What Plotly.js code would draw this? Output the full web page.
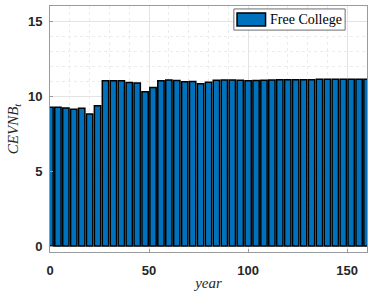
<!DOCTYPE html>
<html>
<head>
<meta charset="utf-8">
<script src="https://cdn.plot.ly/plotly-3.0.1.min.js"></script>
<style>
html,body{margin:0;padding:0;background:#fff;}
#chart{width:369px;height:297px;}
</style>
</head>
<body>
<div id="chart"></div>
<script>
// Data
const years = [0,4,8,12,16,20,24,28,32,36,40,44,48,52,56,60,64,68,72,76,80,
               84,88,92,96,100,104,108,112,116,120,124,128,132,136,140,144,148,152,156,160];
const cevnb = [9.25,9.25,9.2,9.12,9.18,8.8,9.35,11.02,11.02,11.02,10.9,10.87,10.28,10.57,11.02,11.07,11.03,10.95,10.97,10.82,10.92,
               11.05,11.06,11.06,11.05,11.02,11.03,11.05,11.07,11.08,11.08,11.08,11.09,11.09,11.12,11.12,11.12,11.12,11.12,11.12,11.12];
const seriesName = 'Free College';
const xTicks = [0,50,100,150];
const yTicks = [0,5,10,15];

const barColor = '#0072BD';
const trace = {
  type: 'bar',
  x: years,
  y: cevnb,
  name: seriesName,
  width: 3.2,
  marker: {color: barColor, line: {color: '#000000', width: 1.5}},
  showlegend: false
};

const tickFont = {family: 'Liberation Sans, Arial, sans-serif', size: 13, color: '#262626', weight: 'bold'};
const titleFont = {family: 'Liberation Serif, Times New Roman, serif', size: 15, color: '#262626'};

const layout = {
  width: 369, height: 297,
  margin: {l: 50, r: 2, t: 6, b: 45},
  paper_bgcolor: '#ffffff',
  plot_bgcolor: '#ffffff',
  bargap: 0,
  xaxis: {
    range: [0, 160],
    tickvals: xTicks,
    ticks: 'inside', ticklen: 3, tickcolor: '#9a9a9a',
    tickfont: tickFont,
    showline: true, linecolor: '#9a9a9a', linewidth: 1, mirror: true,
    showgrid: true, gridcolor: '#e3e3e3', gridwidth: 1,
    minor: {dtick: 10, showgrid: true, gridcolor: '#ececec', griddash: 'dot', ticks: ''},
    zeroline: false,
    ticklabelstandoff: 6,
    title: {text: '<i>year</i>', font: titleFont, standoff: 0}
  },
  yaxis: {
    range: [-0.4, 16],
    tickvals: yTicks,
    ticks: 'inside', ticklen: 3, tickcolor: '#9a9a9a',
    tickfont: tickFont,
    showline: true, linecolor: '#9a9a9a', linewidth: 1, mirror: true,
    showgrid: true, gridcolor: '#e3e3e3', gridwidth: 1,
    minor: {dtick: 1, showgrid: true, gridcolor: '#ececec', griddash: 'dot', ticks: ''},
    zeroline: false,
    ticklabelstandoff: 4,
    title: {text: '<i>CEVNB</i><sub><i>t</i></sub>', font: titleFont, standoff: 5}
  },
  showlegend: false,
  // MATLAB-style legend box with a wide swatch
  shapes: [
    {type: 'rect', xref: 'paper', yref: 'paper', x0: 0.580, x1: 0.931, y0: 0.902, y1: 0.988,
     fillcolor: '#ffffff', line: {color: '#6e6e6e', width: 1}, layer: 'above'},
    {type: 'rect', xref: 'paper', yref: 'paper', x0: 0.590, x1: 0.680, y0: 0.919, y1: 0.972,
     fillcolor: barColor, line: {color: '#000000', width: 1.5}, layer: 'above'}
  ],
  annotations: [
    {xref: 'paper', yref: 'paper', x: 0.689, y: 0.946, xanchor: 'left', yanchor: 'middle',
     text: seriesName, showarrow: false,
     font: {family: 'Liberation Serif, Times New Roman, serif', size: 14, color: '#000000'}}
  ]
};

Plotly.newPlot('chart', [trace], layout, {displayModeBar: false, staticPlot: true});
</script>
</body>
</html>
